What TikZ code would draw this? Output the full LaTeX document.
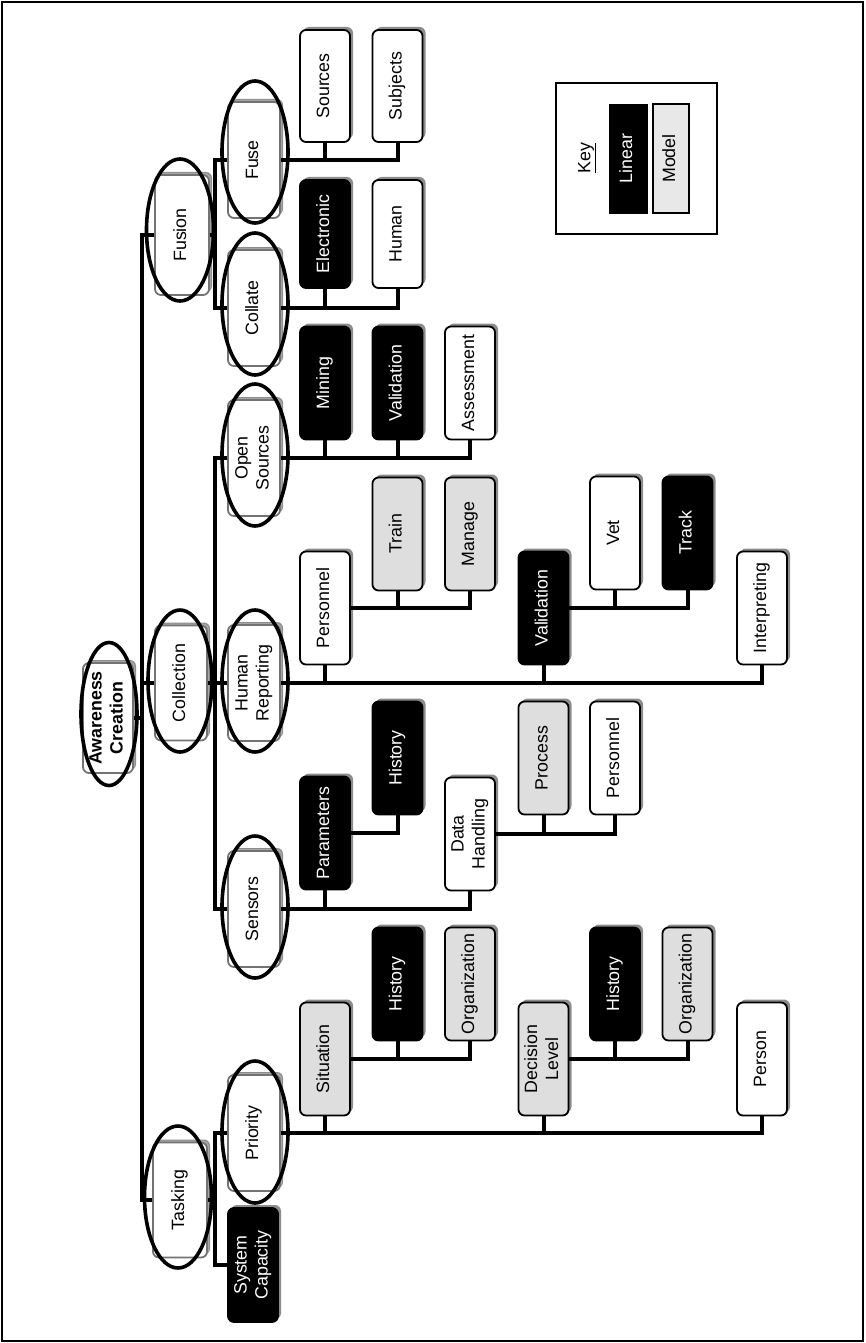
\documentclass[tikz,border=0pt]{standalone}
\usepackage{fontspec}
\setmainfont{Liberation Sans}
\usetikzlibrary{shadows,shapes.geometric}
\newcommand{\rtext}[1]{\rotatebox{90}{\begin{tabular}{@{}c@{}}#1\end{tabular}}}
\begin{document}
\begin{tikzpicture}[x=1pt,y=-1pt,
  txt/.style={font=\fontsize{17.8}{21}\selectfont},
  box/.style={txt, draw=black, line width=1.8pt, rounded corners=6pt, fill=white,
    minimum width=50pt, minimum height=113pt, inner sep=0pt,
    drop shadow={shadow xshift=3pt, shadow yshift=3pt, fill=black!45, opacity=1}},
  lin/.style={box, fill=black, text=white},
  mdl/.style={box, fill=black!13},
  hub/.style={box, draw=black!55, minimum width=52pt, minimum height=116pt,
    drop shadow={shadow xshift=2pt, shadow yshift=2pt, fill=black!35, opacity=1}},
  ring/.style={ellipse, draw=black, line width=3.6pt, minimum width=66pt, minimum height=142pt, inner sep=0pt},
  conn/.style={line width=4pt},
]
\useasboundingbox (0,0) rectangle (865,1343);
\draw[line width=1.8pt] (2,2) rectangle (863,1341);

% level 0
\node[hub, minimum width=50pt, minimum height=110pt, font=\fontsize{17.8}{21}\selectfont\bfseries] (aw) at (108,718) {\rtext{Awareness\\Creation}};

% level 1
\node[hub, minimum width=54pt, minimum height=120pt] (fusion) at (182,235) {\rtext{Fusion}};
\node[hub, minimum width=52pt, minimum height=115pt] (coll) at (181,683) {\rtext{Collection}};
\node[hub, minimum width=54pt, minimum height=115pt] (task) at (180,1200) {\rtext{Tasking}};

% level 2
\node[hub] (fuse) at (254,160) {\rtext{Fuse}};
\node[hub] (collate) at (254,308) {\rtext{Collate}};
\node[hub] (os) at (254,458) {\rtext{Open\\Sources}};
\node[hub] (hr) at (254,683) {\rtext{Human\\Reporting}};
\node[hub] (sens) at (254,909) {\rtext{Sensors}};
\node[hub] (prio) at (254,1133) {\rtext{Priority}};
\node[lin, minimum height=114pt] (sc) at (253,1265) {\rtext{System\\Capacity}};

% rings
\node[ring, minimum width=56pt, minimum height=143pt] (awR) at (109,714) {};
\node[ring, minimum width=67pt] (fusionR) at (180,230) {};
\node[ring, minimum width=64pt] (collR) at (180,681) {};
\node[ring, minimum width=67pt] (taskR) at (178,1197) {};
\node[ring] (fuseR) at (255,152) {};
\node[ring] (collateR) at (255,304) {};
\node[ring] (osR) at (255,455) {};
\node[ring] (hrR) at (255,681) {};
\node[ring] (sensR) at (255,907) {};
\node[ring] (prioR) at (255,1132) {};

% fusion children
\node[box, minimum height=112pt] (src) at (325,86) {\rtext{Sources}};
\node[box, minimum height=112pt] (subj) at (397.5,86) {\rtext{Subjects}};
\node[lin, minimum height=108pt] (elec) at (325,234) {\rtext{Electronic}};
\node[box, minimum height=108pt] (hum) at (397.5,234) {\rtext{Human}};

% open sources children
\node[lin] (mining) at (325,383) {\rtext{Mining}};
\node[lin] (valos) at (397.5,383) {\rtext{Validation}};
\node[box] (assess) at (470,383) {\rtext{Assessment}};

% human reporting children
\node[box] (pershr) at (325,608) {\rtext{Personnel}};
\node[mdl] (train) at (397.5,534) {\rtext{Train}};
\node[mdl] (manage) at (470,534) {\rtext{Manage}};
\node[lin] (valhr) at (543.5,608) {\rtext{Validation}};
\node[box] (vet) at (615,533) {\rtext{Vet}};
\node[lin] (track) at (687.5,533) {\rtext{Track}};
\node[box] (interp) at (762,608) {\rtext{Interpreting}};

% sensors children
\node[lin] (param) at (325,833) {\rtext{Parameters}};
\node[lin] (hists) at (397.5,758) {\rtext{History}};
\node[box] (dh) at (470,834) {\rtext{Data\\Handling}};
\node[mdl] (proc) at (543.5,758) {\rtext{Process}};
\node[box] (persdh) at (615,758) {\rtext{Personnel}};

% priority children
\node[mdl] (sit) at (325,1059) {\rtext{Situation}};
\node[lin] (histp) at (397.5,984) {\rtext{History}};
\node[mdl] (orgp) at (470,984) {\rtext{Organization}};
\node[mdl] (dl) at (543.5,1059) {\rtext{Decision\\Level}};
\node[lin] (histdl) at (615,984) {\rtext{History}};
\node[mdl] (orgdl) at (687.5,984) {\rtext{Organization}};
\node[box] (person) at (762,1059) {\rtext{Person}};

% spine A
\coordinate (sA) at (142,0);
\draw[conn] (fusion.west) -- (fusion.west -| sA) -- (task.west -| sA) -- (task.west);
\draw[conn] (coll.west) -- (coll.west -| sA);
\draw[conn] (aw.east) -- (aw.east -| sA);

% spine B
\coordinate (sB) at (215,0);
\draw[conn] (fusion.east) -- (fusion.east -| sB);
\draw[conn] (fuse.west) -- (fuse.west -| sB) -- (collate.west -| sB) -- (collate.west);
\draw[conn] (coll.east) -- (coll.east -| sB);
\draw[conn] (os.west) -- (os.west -| sB) -- (sens.west -| sB) -- (sens.west);
\draw[conn] (hr.west) -- (hr.west -| sB);
\draw[conn] (task.east) -- (task.east -| sB);
\draw[conn] (prio.west) -- (prio.west -| sB) -- (sc.west -| sB) -- (sc.west);

% level 2 to children
\draw[conn] (fuse.east) -| (subj.south);
\draw[conn] (src.south) -- (src.south |- fuse.east);
\draw[conn] (collate.east) -| (hum.south);
\draw[conn] (elec.south) -- (elec.south |- collate.east);
\draw[conn] (os.east) -| (assess.south);
\draw[conn] (mining.south) -- (mining.south |- os.east);
\draw[conn] (valos.south) -- (valos.south |- os.east);
\draw[conn] (hr.east) -| (interp.south);
\draw[conn] (pershr.south) -- (pershr.south |- hr.east);
\draw[conn] (valhr.south) -- (valhr.south |- hr.east);
\draw[conn] (pershr.east) -| (manage.south);
\draw[conn] (train.south) -- (train.south |- pershr.east);
\draw[conn] (valhr.east) -| (track.south);
\draw[conn] (vet.south) -- (vet.south |- valhr.east);
\draw[conn] (sens.east) -| (dh.south);
\draw[conn] (param.south) -- (param.south |- sens.east);
\draw[conn] (param.east) -| (hists.south);
\draw[conn] (dh.east) -| (persdh.south);
\draw[conn] (proc.south) -- (proc.south |- dh.east);
\draw[conn] (prio.east) -| (person.south);
\draw[conn] (sit.south) -- (sit.south |- prio.east);
\draw[conn] (dl.south) -- (dl.south |- prio.east);
\draw[conn] (sit.east) -| (orgp.south);
\draw[conn] (histp.south) -- (histp.south |- sit.east);
\draw[conn] (dl.east) -| (orgdl.south);
\draw[conn] (histdl.south) -- (histdl.south |- dl.east);

% key
\node[draw=black, line width=1.6pt, minimum width=161pt, minimum height=151pt, inner sep=0pt] (key) at (636.5,158.5) {};
\node[txt] (keyt) at (587,158) {\rotatebox{90}{\underline{Key}}};
\node[txt, fill=black, draw=black, text=white, minimum width=38pt, minimum height=109pt, inner sep=0pt] (klin) at (628,158.5) {\rtext{Linear}};
\node[txt, fill=black!9, draw=black, line width=1.3pt, minimum width=36pt, minimum height=109pt, inner sep=0pt] (kmod) at (671,158.5) {\rtext{Model}};
\end{tikzpicture}
\end{document}
